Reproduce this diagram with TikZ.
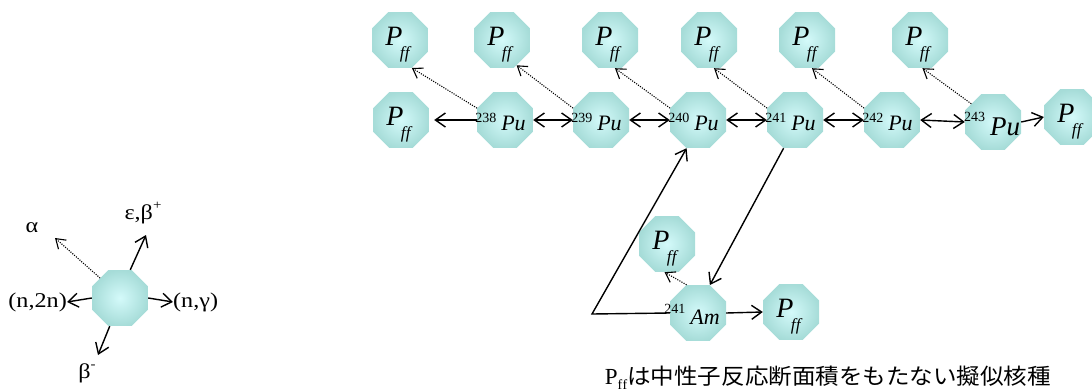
\documentclass[tikz,border=0pt]{standalone}
\usepackage{fontspec}
\setmainfont{Liberation Serif}
\newfontfamily\legfont{Liberation Serif}[FakeStretch=1.15]
\newfontfamily\cjk{Noto Sans CJK JP}[FakeStretch=1.07]
\usetikzlibrary{shapes.geometric,arrows.meta,calc}
\definecolor{octin}{RGB}{212,250,250}
\definecolor{octout}{RGB}{166,220,216}
% P_ff label: P baseline 5pt below centre, ff to its lower right
\newcommand{\pff}{\makebox[0pt]{\raisebox{-5pt}[0pt][0pt]{\fontsize{28}{28}\selectfont\itshape P\kern-2.5pt\raisebox{-13pt}{\fontsize{17}{17}\selectfont f\kern0.3pt f}}\hspace{5pt}}}
% nuclide label: #1 mass, #2 symbol, #3 shift left (x2), #4 baseline drop, #5 sup raise, #6 sup size, #7 symbol size
\newcommand{\nuc}[7]{\makebox[0pt]{\raisebox{-#4}[0pt][0pt]{\raisebox{#5}{\fontsize{#6}{#6}\selectfont #1}\kern5pt{\fontsize{#7}{#7}\selectfont\itshape #2}}\hspace{#3}}}
\tikzset{
  oct/.style={regular polygon, regular polygon sides=8, minimum size=60.6pt,
    inner sep=0pt, inner color=octin, outer color=octout, draw=none},
  arr/.style={line width=1.4pt, -{Straight Barb[length=10pt,width=14pt]}},
  darr/.style={line width=1.4pt, {Straight Barb[length=10pt,width=14pt]}-{Straight Barb[length=10pt,width=14pt]}},
  dotarr/.style={line width=1.1pt, dash pattern=on 1.1pt off 1.3pt, -{Straight Barb[length=9pt,width=12pt]}},
  lab/.style={inner sep=0pt, font=\legfont\fontsize{21}{21}\selectfont},
}
\begin{document}
\begin{tikzpicture}[x=1pt,y=-1pt]
\useasboundingbox (0,0) rectangle (1092,391);
% top row
\node[oct] (t1) at (400,40) {\pff};
\node[oct] (t2) at (502,40) {\pff};
\node[oct] (t3) at (610,40) {\pff};
\node[oct] (t4) at (709,40) {\pff};
\node[oct] (t5) at (807,40) {\pff};
\node[oct] (t6) at (920,40) {\pff};
% second row
\node[oct] (f0) at (401,120) {\pff};
\node[oct] (pu238) at (505,120) {\nuc{238}{Pu}{9pt}{10pt}{8pt}{14}{22}};
\node[oct] (pu239) at (601,120) {\nuc{239}{Pu}{9pt}{10pt}{8pt}{14}{22}};
\node[oct] (pu240) at (698,120) {\nuc{240}{Pu}{9pt}{10pt}{8pt}{14}{22}};
\node[oct] (pu241) at (795,120) {\nuc{241}{Pu}{9pt}{10pt}{8pt}{14}{22}};
\node[oct] (pu242) at (892,120) {\nuc{242}{Pu}{9pt}{10pt}{8pt}{14}{22}};
\node[oct] (pu243) at (993,122) {\nuc{243}{Pu}{2pt}{13pt}{14pt}{14}{27}};
\node[oct] (f7) at (1072,117) {\pff};
% americium
\node[oct] (fa) at (667,244) {\pff};
\node[oct] (am) at (698,313) {\nuc{241}{Am}{12pt}{11pt}{11pt}{14}{22}};
\node[oct] (fb) at (791,312) {\pff};
\coordinate (bend) at (592,314);
% legend
\node[oct] (lg) at (120,298) {};
\node[lab, anchor=west] (ng) at (173,302) {(n,γ)};
\node[lab, anchor=east] (n2n) at (67,302) {(n,2n)};
\node[lab] (eb) at (143,213) {ε,β\raisebox{0.45em}{\fontsize{13}{13}\selectfont +}};
\node[lab] (al) at (32,228) {α};
\node[lab] (bm) at (87,373) {β\raisebox{0.45em}{\fontsize{13}{13}\selectfont -}};
\coordinate (ebtip) at (146,235);
\coordinate (altip) at (55,238);
\coordinate (bmtip) at (98,355);
% note
\node[inner sep=0pt] (note) at (828,378) {\fontsize{23}{23}\selectfont P\raisebox{-5pt}{\fontsize{14}{14}\selectfont f\kern0.3pt f}\cjk\fontsize{22}{22}\selectfont は中性子反応断面積をもたない擬似核種};
% horizontal arrows
\draw[arr, shorten >=5pt] (pu238.west) -- (f0.east);
\draw[darr] (pu238.east) -- (pu239.west);
\draw[darr] (pu239.east) -- (pu240.west);
\draw[darr] (pu240.east) -- (pu241.west);
\draw[darr] (pu241.east) -- (pu242.west);
\draw[darr] (pu242.east) -- (pu243.west);
\draw[arr] (pu243.east) -- (f7.west);
% dotted fission arrows
\draw[dotarr] (pu238.157.5) -- (t1.-67.5);
\draw[dotarr] (pu239.157.5) -- (t2.-60);
\draw[dotarr] (pu240.157.5) -- (t3.-80);
\draw[dotarr] (pu241.157.5) -- (t4.-80);
\draw[dotarr] (pu242.157.5) -- (t5.-80);
\draw[dotarr] (pu243.140) -- (t6.-85);
% americium paths
\draw[arr] (pu241.-112.5) -- (am.67.5);
\draw[arr] (am.west) -- (bend) -- (pu240.-112.5);
\draw[dotarr] (am.112.5) -- (fa.-95);
\draw[arr] (am.east) -- (fb.west);
% legend arrows
\draw[arr] (lg.east) -- (ng.west);
\draw[arr] (lg.west) -- (n2n.east);
\draw[arr] (lg.70) -- (ebtip);
\draw[dotarr] (lg.135) -- (altip);
\draw[arr] (lg.-110) -- (bmtip);
\end{tikzpicture}
\end{document}
